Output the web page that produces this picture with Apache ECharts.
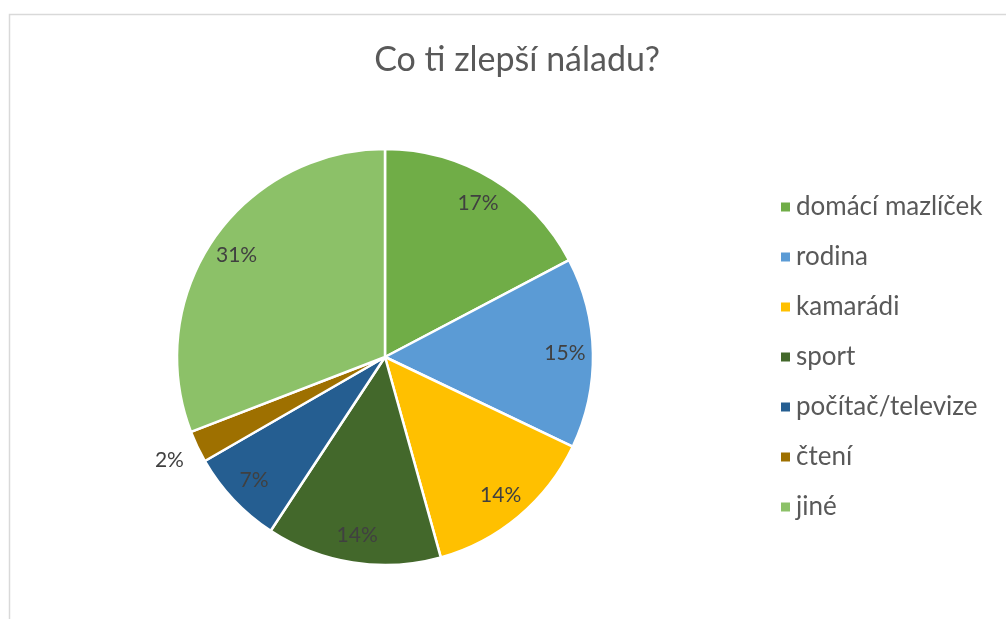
<!DOCTYPE html>
<html><head><meta charset="utf-8">
<script src="https://cdn.jsdelivr.net/npm/echarts@6/dist/echarts.min.js"></script>
<style>html,body{margin:0;padding:0;background:#fff}#c{width:1006px;height:619px}</style>
</head><body><div id="c"></div>
<script>
const titleText = 'Co ti zlepší náladu?';
const categories = ['domácí mazlíček','rodina','kamarádi','sport','počítač/televize','čtení','jiné'];
const values = [14, 12, 11, 11, 6, 2, 25];
const colors = ['#70AD47','#5B9BD5','#FFC000','#43682B','#255E91','#9E7000','#8CC168'];
const outsideLabelIdx = [5];

const FONT = 'Lato, "Open Sans", sans-serif';
const CENTER = [385, 357];
const R = 208;

const mainData = categories.map((n, i) => ({ name: n, value: values[i], itemStyle: { color: colors[i] } }));
const labelData = categories.map((n, i) => ({ name: n, value: values[i], label: { show: !outsideLabelIdx.includes(i) } }));
const outData = categories.map((n, i) => ({ name: n, value: values[i], label: { show: outsideLabelIdx.includes(i) } }));

const labelStyle = { position: 'inside', formatter: '{d}%', color: '#404040', fontSize: 21, fontFamily: FONT };

const chart = echarts.init(document.getElementById('c'));
chart.setOption({
  animation: false,
  backgroundColor: '#fff',
  graphic: [{ type: 'rect', shape: { x: 9.5, y: 14.5, width: 1100, height: 700 }, style: { fill: 'none', stroke: '#d9d9d9', lineWidth: 1.5 }, silent: true }],
  title: { text: titleText, left: 512, textAlign: 'center', top: 38, textStyle: { fontFamily: FONT, fontSize: 34, fontWeight: 'normal', color: '#595959' } },
  legend: {
    data: categories, orient: 'vertical', left: 774, top: 189, itemWidth: 11, itemHeight: 11, itemGap: 24, icon: 'rect',
    textStyle: { fontFamily: FONT, fontSize: 26, lineHeight: 26, color: '#595959' }
  },
  series: [
    { type: 'pie', center: CENTER, radius: [0, R], startAngle: 90, clockwise: true, percentPrecision: 0, data: mainData, label: { show: false }, labelLine: { show: false },
      itemStyle: { borderColor: '#fff', borderWidth: 2.5 }, emphasis: { disabled: true }, silent: true },
    { type: 'pie', center: CENTER, radius: [0, 2 * 177], percentPrecision: 0, data: labelData, label: labelStyle, labelLine: { show: false },
      itemStyle: { color: 'rgba(0,0,0,0)' }, emphasis: { disabled: true }, silent: true, legendHoverLink: false, z: 3 },
    { type: 'pie', center: CENTER, radius: [0, 2 * 236], percentPrecision: 0, data: outData, label: labelStyle, labelLine: { show: false },
      itemStyle: { color: 'rgba(0,0,0,0)' }, emphasis: { disabled: true }, silent: true, legendHoverLink: false, z: 3 }
  ]
});
</script></body></html>
